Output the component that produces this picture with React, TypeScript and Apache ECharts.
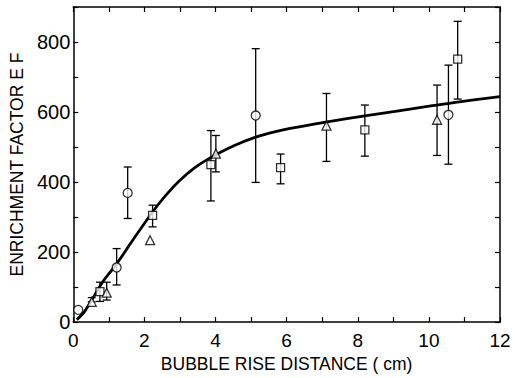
import React, { useEffect, useRef } from "react";
import * as echarts from "echarts";

const curveX = [0.1, 0.33, 0.83, 1.21, 1.68, 2.24, 2.6, 3.0, 3.4, 3.85, 4.5, 5.15, 5.6, 6.1, 7.1, 8.2, 10.1, 10.7, 12];
const curveY = [7, 32, 115, 165, 235, 316, 362, 405, 440, 469, 503, 529, 542, 553, 571, 589, 618, 627, 644];

const circleX = [0.14, 1.22, 1.53, 5.13, 10.55];
const circleY = [35, 156, 369, 590, 592];
const circleLo = [35, 106, 296, 399, 451];
const circleHi = [35, 210, 443, 781, 734];

const squareX = [0.75, 2.23, 3.87, 5.83, 8.2, 10.81];
const squareY = [87, 305, 450, 441, 549, 751];
const squareLo = [59, 272, 346, 395, 474, 637];
const squareHi = [114, 334, 547, 480, 620, 859];

const triX = [0.52, 0.94, 2.16, 4.01, 7.12, 10.23];
const triY = [58, 84, 234, 481, 561, 578];
const triLo = [58, 63, 234, 429, 459, 476];
const triHi = [70, 114, 234, 533, 653, 677];

const FONT = "'Liberation Sans', Arial, sans-serif";

export default function App() {
  const ref = useRef<HTMLDivElement>(null);
  useEffect(() => {
    if (!ref.current) return;
    const chart = echarts.init(ref.current, null, { renderer: "svg" });

    const errData: number[][] = [];
    const addErr = (xs: number[], lo: number[], hi: number[]) => {
      xs.forEach((x, i) => {
        if (hi[i] > lo[i]) errData.push([x, lo[i], hi[i]]);
      });
    };
    addErr(circleX, circleLo, circleHi);
    addErr(squareX, squareLo, squareHi);
    addErr(triX, triLo, triHi);

    const zip = (xs: number[], ys: number[]) => xs.map((x, i) => [x, ys[i]]);
    const markerStyle = { color: "#fff", borderColor: "#000", borderWidth: 1.3 };

    const axisCommon = {
      axisLine: { show: true, onZero: false, lineStyle: { color: "#000", width: 1.5 } },
      axisTick: { show: true, inside: true, length: 5, lineStyle: { color: "#000", width: 1.2 } },
      splitLine: { show: false },
    };

    chart.setOption({
      animation: false,
      backgroundColor: "#fff",
      grid: { left: 73, right: 15, top: 7, bottom: 53 },
      xAxis: [
        {
          type: "value",
          min: 0,
          max: 12,
          interval: 1,
          position: "bottom",
          ...axisCommon,
          axisLabel: {
            color: "#000",
            fontSize: 19,
            fontFamily: FONT,
            margin: 9,
            formatter: (v: number) => (v % 2 === 0 ? String(v) : ""),
          },
          name: "BUBBLE RISE DISTANCE ( cm)",
          nameLocation: "middle",
          nameGap: 27,
          nameTextStyle: { color: "#000", fontSize: 17.5, fontFamily: FONT },
        },
        {
          type: "value",
          min: 0,
          max: 12,
          interval: 1,
          position: "top",
          ...axisCommon,
          axisLabel: { show: false },
        },
      ],
      yAxis: [
        {
          type: "value",
          min: 0,
          max: 900,
          interval: 100,
          position: "left",
          ...axisCommon,
          axisLabel: {
            color: "#000",
            fontSize: 20,
            fontFamily: FONT,
            margin: 3,
            formatter: (v: number) => (v % 200 === 0 ? String(v) : ""),
          },
          name: "ENRICHMENT FACTOR E F",
          nameLocation: "middle",
          nameGap: 40,
          nameTextStyle: { color: "#000", fontSize: 17.5, fontFamily: FONT },
        },
        {
          type: "value",
          min: 0,
          max: 900,
          interval: 100,
          position: "right",
          ...axisCommon,
          axisLabel: { show: false },
        },
      ],
      series: [
        {
          type: "line",
          data: zip(curveX, curveY),
          smooth: 0.35,
          showSymbol: false,
          lineStyle: { color: "#000", width: 2.8 },
          z: 2,
        },
        {
          type: "custom",
          data: errData,
          z: 3,
          renderItem: (params: any, api: any) => {
            const x = api.value(0);
            const lo = api.coord([x, api.value(1)]);
            const hi = api.coord([x, api.value(2)]);
            const w = 4;
            const style = { stroke: "#000", lineWidth: 1.3 };
            return {
              type: "group",
              children: [
                { type: "line", shape: { x1: lo[0], y1: lo[1], x2: hi[0], y2: hi[1] }, style },
                { type: "line", shape: { x1: hi[0] - w, y1: hi[1], x2: hi[0] + w, y2: hi[1] }, style },
                { type: "line", shape: { x1: lo[0] - w, y1: lo[1], x2: lo[0] + w, y2: lo[1] }, style },
              ],
            };
          },
        },
        {
          type: "scatter",
          data: zip(circleX, circleY),
          symbol: "circle",
          symbolSize: 9,
          itemStyle: markerStyle,
          z: 4,
        },
        {
          type: "scatter",
          data: zip(squareX, squareY),
          symbol: "rect",
          symbolSize: 8,
          itemStyle: markerStyle,
          z: 4,
        },
        {
          type: "scatter",
          data: zip(triX, triY),
          symbol: "triangle",
          symbolSize: 9,
          itemStyle: markerStyle,
          z: 4,
        },
      ],
    });
    return () => chart.dispose();
  }, []);
  return <div ref={ref} style={{ width: 515, height: 378, position: "absolute", left: 0, top: 0 }} />;
}
